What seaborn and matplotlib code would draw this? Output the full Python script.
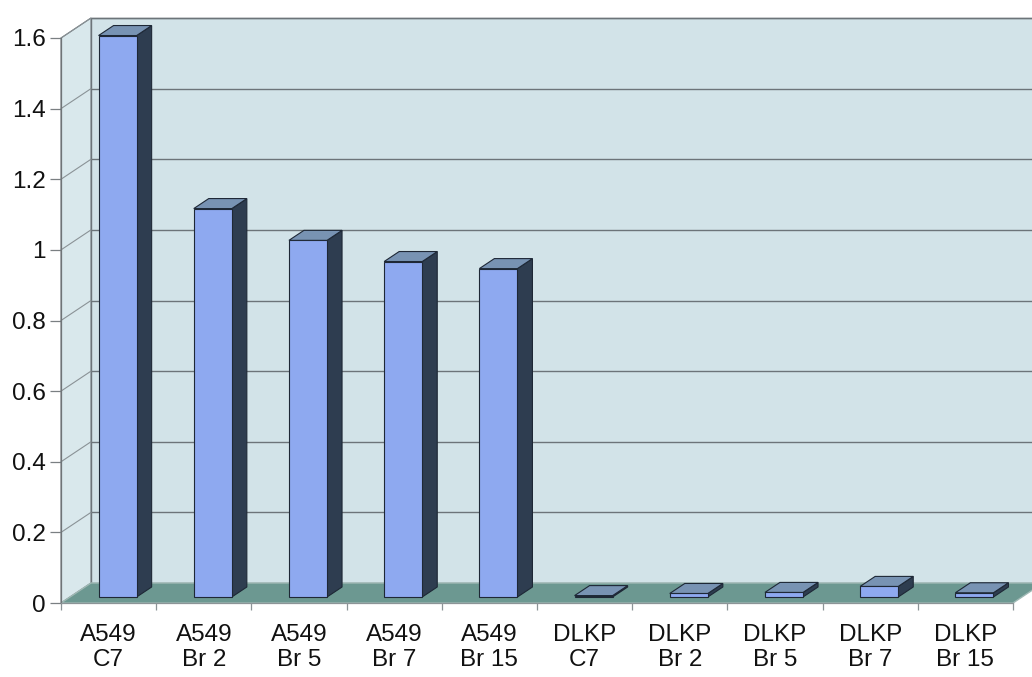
import numpy as np
import matplotlib
matplotlib.use("Agg")
import matplotlib.pyplot as plt
import matplotlib.transforms as mtransforms
from matplotlib.patches import Polygon
import seaborn as sns

# ---- data -------------------------------------------------------------
categories = ["A549\nC7", "A549\nBr 2", "A549\nBr 5", "A549\nBr 7", "A549\nBr 15",
              "DLKP\nC7", "DLKP\nBr 2", "DLKP\nBr 5", "DLKP\nBr 7", "DLKP\nBr 15"]
values = [1.59, 1.10, 1.01, 0.95, 0.93, 0.004, 0.010, 0.013, 0.030, 0.012]
yticks = [0, 0.2, 0.4, 0.6, 0.8, 1.0, 1.2, 1.4, 1.6]
ytick_labels = ["0", "0.2", "0.4", "0.6", "0.8", "1", "1.2", "1.4", "1.6"]

# ---- style --------------------------------------------------------------
sns.set_theme(style="white")
plt.rcParams["font.family"] = ["Liberation Sans", "DejaVu Sans"]

WALL = "#d2e3e8"
SIDE_WALL = "#d9e8ec"
FLOOR = "#6c9891"
GRID = "#6c7479"
BAR_FRONT = "#8ea9f0"
BAR_SIDE = "#2e3d50"
BAR_TOP = "#7893b3"
OUTLINE = "#1e2836"
FONT_SIZE = 17.5

W, H, DPI = 1032, 677, 100
fig = plt.figure(figsize=(W / DPI, H / DPI), dpi=DPI)
fig.patch.set_facecolor("white")

# front plane of the 3-D box, in pixels
ax_left, ax_right, ax_bottom, ax_top = 61, 1013, 603, 38
ax = fig.add_axes([ax_left / W, 1 - ax_bottom / H,
                   (ax_right - ax_left) / W, (ax_bottom - ax_top) / H])
n = len(categories)
ymax = yticks[-1]

# box depth (front plane -> back wall) expressed in data units
depth_px = (30, 20)
DX = depth_px[0] / ((ax_right - ax_left) / n)
DY = depth_px[1] / ((ax_bottom - ax_top) / ymax)


def off(x, y, d):
    """Point (x, y) pushed d of the way back into the box."""
    return (x + d * DX, y + d * DY)


# ---- bars (front faces) ------------------------------------------------
sns.barplot(x=categories, y=values, ax=ax, color=BAR_FRONT, width=0.4,
            saturation=1, edgecolor=OUTLINE, linewidth=0.8, zorder=4)
bars = list(ax.patches)

ax.set_xlim(-0.5, n - 0.5)
ax.set_ylim(0, ymax)
ax.patch.set_visible(False)

BAR_D0, BAR_D1 = 0.3, 0.8
shift = mtransforms.Affine2D().translate(BAR_D0 * DX, BAR_D0 * DY) + ax.transData
for b in bars:
    b.set_transform(shift)
    b.set_clip_on(False)
    xl, w, v = b.get_x(), b.get_width(), b.get_height()
    xr = xl + w
    side = Polygon([off(xr, 0, BAR_D0), off(xr, 0, BAR_D1),
                    off(xr, v, BAR_D1), off(xr, v, BAR_D0)],
                   closed=True, fc=BAR_SIDE, ec=OUTLINE, lw=0.8,
                   zorder=3.5, clip_on=False)
    top = Polygon([off(xl, v, BAR_D0), off(xr, v, BAR_D0),
                   off(xr, v, BAR_D1), off(xl, v, BAR_D1)],
                  closed=True, fc=BAR_TOP, ec=OUTLINE, lw=0.8,
                  zorder=4.5, clip_on=False)
    ax.add_patch(side)
    ax.add_patch(top)

# ---- walls and floor -----------------------------------------------------
x0, x1 = -0.5, n - 0.5
back = Polygon([off(x0, 0, 1), off(x1, 0, 1), off(x1, ymax, 1), off(x0, ymax, 1)],
               closed=True, fc=WALL, ec=GRID, lw=1.0, zorder=0.5, clip_on=False)
left_wall = Polygon([(x0, 0), off(x0, 0, 1), off(x0, ymax, 1), (x0, ymax)],
                    closed=True, fc=SIDE_WALL, ec=GRID, lw=0.8, zorder=0.6, clip_on=False)
floor = Polygon([(x0, 0), (x1, 0), off(x1, 0, 1), off(x0, 0, 1)],
                closed=True, fc=FLOOR, ec="#9fb8b4", lw=1.0, zorder=1, clip_on=False)
for p in (back, left_wall, floor):
    ax.add_patch(p)

for y in yticks[1:]:
    bx0, by0 = off(x0, y, 1)
    bx1, by1 = off(x1, y, 1)
    ax.plot([bx0, bx1], [by0, by1], color=GRID, lw=1.0, zorder=0.8, clip_on=False)
    ax.plot([x0, bx0], [y, by0], color="#8a9296", lw=0.8, zorder=0.8, clip_on=False)

# ---- axes ------------------------------------------------------------------
for s in ("top", "right"):
    ax.spines[s].set_visible(False)
ax.spines["left"].set_color("#6f7477")
ax.spines["left"].set_linewidth(0.9)
ax.spines["bottom"].set_color("#8c9497")
ax.spines["bottom"].set_linewidth(0.9)
ax.spines["left"].set_zorder(2)
ax.spines["bottom"].set_zorder(2)

ax.set_yticks(yticks, ytick_labels)
ax.set_xticks(range(n), categories)
ax.set_xticks(np.arange(-0.5, n), minor=True)
ax.tick_params(axis="y", left=True, length=8, width=0.9, color="#7a7f82",
               pad=3, labelsize=FONT_SIZE, labelcolor="#111111", direction="out")
ax.tick_params(axis="x", which="major", bottom=True, length=0, pad=15,
               labelsize=FONT_SIZE, labelcolor="#111111")
ax.tick_params(axis="x", which="minor", bottom=True, length=5, width=0.9,
               color="#8c9497", direction="out")
ax.set_xlabel("")
ax.set_ylabel("")

fig.savefig("out.png", dpi=DPI)
